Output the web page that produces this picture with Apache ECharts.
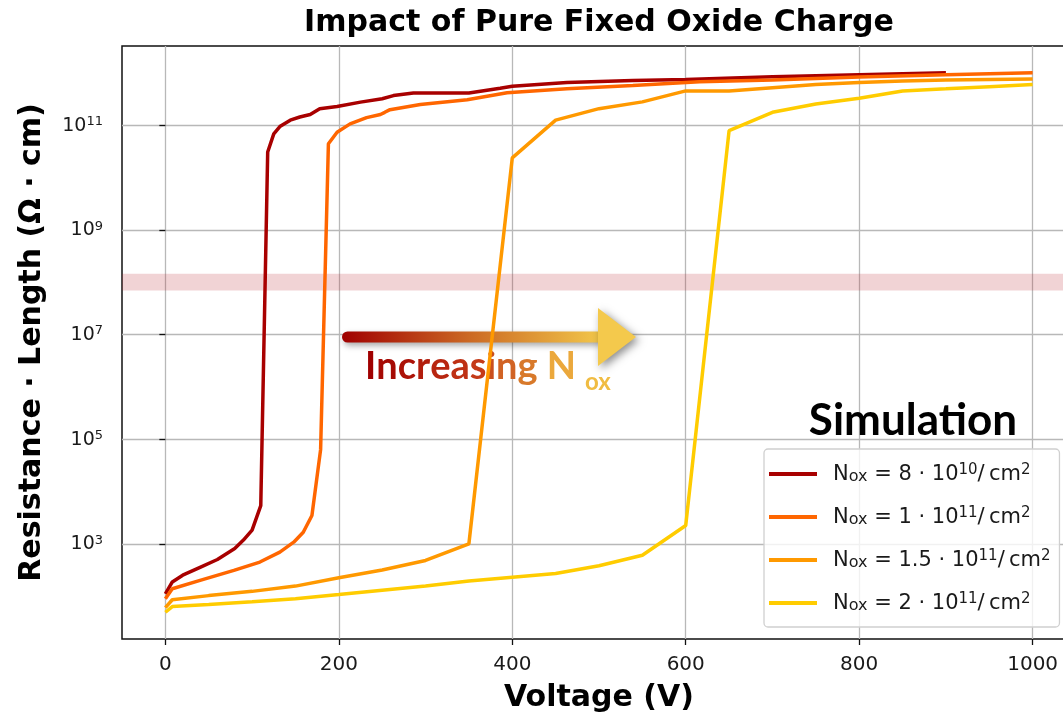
<!DOCTYPE html>
<html>
<head>
<meta charset="utf-8">
<script src="https://cdn.jsdelivr.net/npm/echarts@6/dist/echarts.min.js"></script>
<style>
  html, body { margin: 0; padding: 0; background: #ffffff; }
  #chart { width: 1063px; height: 712px; }
</style>
</head>
<body>
<div id="chart"></div>
<script>
// Resistance per length (Ω·cm) against applied voltage (V) for four fixed oxide charge densities.
const voltageA = [0, 8, 20, 40, 60, 80, 90, 100, 110, 118, 125, 132, 144, 155, 167, 178, 198, 225, 250, 263, 286, 350, 386, 400, 463, 539, 600, 700, 800, 900];
const resistA  = [110, 186, 251, 355, 500, 813, 1175, 1820, 5370, 3.1e10, 6.9e10, 9.5e10, 1.26e11, 1.45e11, 1.62e11, 2.09e11, 2.29e11, 2.79e11, 3.24e11, 3.72e11, 4.17e11, 4.17e11, 5.13e11, 5.62e11, 6.61e11, 7.24e11, 7.59e11, 8.51e11, 9.33e11, 1.02e12];

const voltageB = [0, 8, 40, 79, 109, 132, 148, 159, 169, 179, 188, 198, 213, 232, 248, 253, 259, 294, 348, 394, 463, 539, 616, 700, 800, 900, 1000];
const resistB  = [89, 138, 200, 309, 447, 692, 1072, 1660, 3467, 63100, 4.47e10, 7.41e10, 1.07e11, 1.41e11, 1.62e11, 1.78e11, 2.0e11, 2.51e11, 3.09e11, 4.22e11, 5.01e11, 5.82e11, 6.84e11, 7.41e11, 8.41e11, 9.33e11, 1.02e12];

const voltageC = [0, 8, 50, 100, 150, 200, 250, 300, 350, 400, 450, 500, 550, 600, 650, 700, 750, 800, 850, 900, 950, 1000];
const resistC  = [60, 85, 102, 123, 155, 224, 316, 479, 1000, 2.4e10, 1.26e11, 2.09e11, 2.82e11, 4.57e11, 4.57e11, 5.25e11, 6.03e11, 6.61e11, 7.08e11, 7.41e11, 7.59e11, 7.76e11];

const voltageD = [0, 8, 50, 100, 150, 200, 250, 300, 350, 400, 450, 500, 550, 600, 650, 700, 750, 800, 850, 900, 950, 1000];
const resistD  = [49, 63, 69, 78, 89, 107, 129, 155, 195, 229, 269, 380, 603, 2239, 7.94e10, 1.78e11, 2.57e11, 3.31e11, 4.57e11, 5.01e11, 5.5e11, 6.03e11];

// Legend labels: N_ox = coef · 10^exp / cm^2
const seriesNames = ['Nox8e10', 'Nox1e11', 'Nox1.5e11', 'Nox2e11'];
const noxCoef = ['8', '1', '1.5', '2'];
const noxExp  = ['10', '11', '11', '11'];
const seriesColors = ['#a80000', '#ff6600', '#ff9900', '#ffcc00'];

const xTicks = [0, 200, 400, 600, 800, 1000];
const yTicks = [1e3, 1e5, 1e7, 1e9, 1e11];
const bandRange = [7e7, 1.45e8];   // shaded target resistance window

const FONT = '"DejaVu Sans", sans-serif';
const NOTE_FONT = 'Lato, "Open Sans", sans-serif';

function pairs(xs, ys) { return xs.map((x, i) => [x, ys[i]]); }

// colour ramp shared by the annotation arrow and its caption
const rampStops = [[0, [160, 0, 0]], [0.55, [196, 58, 24]], [0.85, [218, 128, 44]], [1, [235, 168, 60]]];
function rampColor(t) {
  for (let k = 1; k < rampStops.length; k++) {
    const [t1, c1] = rampStops[k];
    const [t0, c0] = rampStops[k - 1];
    if (t <= t1) {
      const f = (t - t0) / (t1 - t0);
      return 'rgb(' + c0.map((c, j) => Math.round(c + (c1[j] - c) * f)).join(',') + ')';
    }
  }
  return 'rgb(' + rampStops[rampStops.length - 1][1].join(',') + ')';
}

// caption text, one rich token per character so the ramp runs across the word
const captionText = 'Increasing N';
const captionRich = {};
let captionStr = '';
for (let i = 0; i < captionText.length; i++) {
  const key = 'c' + i;
  captionRich[key] = { fill: rampColor(i / (captionText.length - 1)), font: 'bold 38px ' + NOTE_FONT };
  captionStr += '{' + key + '|' + captionText[i] + '}';
}

const chart = echarts.init(document.getElementById('chart'), null, { renderer: 'canvas' });

const seriesData = [pairs(voltageA, resistA), pairs(voltageB, resistB), pairs(voltageC, resistC), pairs(voltageD, resistD)];

const series = seriesData.map((d, i) => ({
  name: seriesNames[i],
  type: 'line',
  data: d,
  showSymbol: false,
  symbol: 'none',
  clip: true,
  z: 3 + i,
  lineStyle: { color: seriesColors[i], width: 3.5 },
  itemStyle: { color: seriesColors[i] },
  emphasis: { disabled: true }
}));

series[0].markArea = {
  silent: true,
  itemStyle: { color: 'rgba(185,35,45,0.2)' },
  data: [[{ yAxis: bandRange[0] }, { yAxis: bandRange[1] }]]
};

const option = {
  animation: false,
  backgroundColor: '#ffffff',
  grid: {
    left: 122, top: 46, width: 954, height: 593,
    show: true, borderColor: '#111111', borderWidth: 1.5,
    backgroundColor: 'transparent',
    containLabel: false, outerBoundsMode: 'none'
  },
  xAxis: {
    type: 'value', min: -50, max: 1050,
    name: 'Voltage (V)', nameLocation: 'middle', nameGap: 44,
    nameTextStyle: { fontFamily: FONT, fontSize: 30, fontWeight: 'bold', color: '#000' },
    axisLine: { show: false },
    axisTick: { show: true, length: 6, customValues: xTicks, lineStyle: { color: '#111', width: 1.3 } },
    axisLabel: { customValues: xTicks, fontFamily: FONT, fontSize: 20, color: '#1a1a1a', margin: 16,
                 formatter: function (v) { return String(v); } },
    splitLine: { show: true, lineStyle: { color: '#b8b8b8', width: 1.3 } }
  },
  yAxis: {
    type: 'log', logBase: 10, min: 15.1, max: 3.3e12,
    name: 'Resistance · Length (Ω · cm)', nameLocation: 'middle', nameGap: 75, nameRotate: 90,
    nameTextStyle: { fontFamily: FONT, fontSize: 30, fontWeight: 'bold', color: '#000' },
    axisLine: { show: false },
    axisTick: { show: true, length: 6, customValues: yTicks, lineStyle: { color: '#111', width: 1.3 } },
    axisLabel: {
      customValues: yTicks, margin: 19,
      formatter: function (v) { return '{b|10}{s|' + Math.round(Math.log10(v)) + '}'; },
      rich: {
        b: { fontFamily: FONT, fontSize: 19, color: '#1a1a1a', lineHeight: 20, verticalAlign: 'bottom' },
        s: { fontFamily: FONT, fontSize: 13, color: '#1a1a1a', lineHeight: 13, verticalAlign: 'top' }
      }
    },
    splitLine: { show: true, lineStyle: { color: '#b8b8b8', width: 1.3 } }
  },
  legend: {
    orient: 'vertical', left: 764, top: 449,
    padding: [14, 9, 13, 5],
    itemWidth: 48, itemHeight: 4, itemGap: 21,
    icon: 'rect',
    backgroundColor: 'rgba(255,255,255,0.8)',
    borderColor: '#d0d0d0', borderWidth: 1.3, borderRadius: 4,
    selectedMode: false,
    data: seriesNames,
    formatter: function (name) {
      const i = seriesNames.indexOf(name);
      return '{gap| }{n|N}{sub|ox}{n| = ' + noxCoef[i] + ' · 10}{sup|' + noxExp[i] + '}{n|/\u2009cm}{sup|2}';
    },
    textStyle: {
      rich: {
        gap: { width: 11, fontSize: 10 },
        n: { fontFamily: FONT, fontSize: 21, color: '#1a1a1a', lineHeight: 22, verticalAlign: 'bottom' },
        sup: { fontFamily: FONT, fontSize: 15, color: '#1a1a1a', lineHeight: 14, verticalAlign: 'top' },
        sub: { fontFamily: FONT, fontSize: 16, color: '#1a1a1a', lineHeight: 5, verticalAlign: 'bottom' }
      }
    }
  },
  graphic: [
    {
      type: 'text', x: 599, y: 23, z: 10,
      style: { text: 'Impact of Pure Fixed Oxide Charge', font: 'bold 30px ' + FONT, fill: '#000',
               textAlign: 'center', textVerticalAlign: 'middle', align: 'center', verticalAlign: 'middle' }
    },
    // arrow shaft
    {
      type: 'rect', z: 1, silent: true,
      shape: { x: 342, y: 331.5, width: 258, height: 11, r: [5.5, 0, 0, 5.5] },
      style: {
        fill: new echarts.graphic.LinearGradient(0, 0, 1, 0, [
          { offset: 0, color: '#a00000' }, { offset: 0.5, color: '#cc6a24' }, { offset: 1, color: '#f2c64a' }
        ]),
        shadowBlur: 6, shadowOffsetX: 2, shadowOffsetY: 3, shadowColor: 'rgba(0,0,0,0.35)'
      }
    },
    // arrow head
    {
      type: 'polygon', z: 1, silent: true,
      shape: { points: [[598, 308], [636, 337], [598, 366]] },
      style: { fill: '#f4c94c', shadowBlur: 8, shadowOffsetX: 3, shadowOffsetY: 3, shadowColor: 'rgba(0,0,0,0.45)' }
    },
    {
      type: 'text', x: 365, y: 367, z: 1, silent: true,
      style: {
        text: captionStr, rich: captionRich, font: 'bold 38px ' + NOTE_FONT,
        textAlign: 'left', textVerticalAlign: 'middle', align: 'left', verticalAlign: 'middle'
      }
    },
    {
      type: 'text', x: 585, y: 382, z: 1, silent: true,
      style: { text: 'ox', font: 'bold 24px ' + NOTE_FONT, fill: '#f0bc42',
               textAlign: 'left', textVerticalAlign: 'middle', align: 'left', verticalAlign: 'middle' }
    },
    {
      type: 'text', x: 913, y: 421, z: 10, silent: true,
      style: { text: 'Simulation', font: 'bold 44px ' + NOTE_FONT, fill: '#000',
               textAlign: 'center', textVerticalAlign: 'middle', align: 'center', verticalAlign: 'middle' }
    }
  ],
  series: series
};

chart.setOption(option);
</script>
</body>
</html>
